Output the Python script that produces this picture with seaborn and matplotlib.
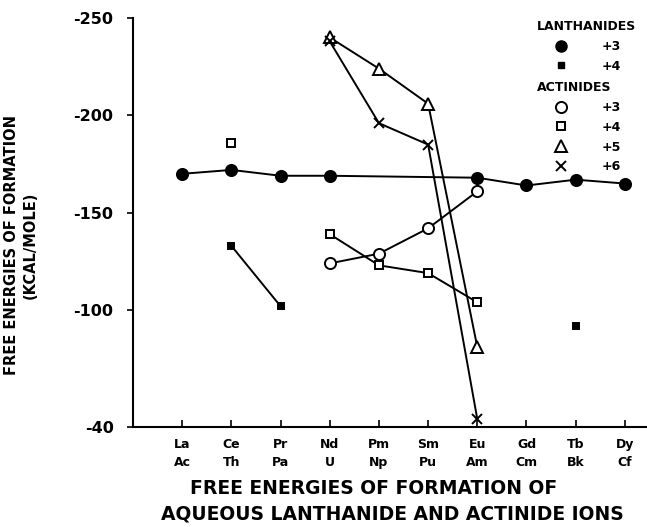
import numpy as np
import pandas as pd
import matplotlib
matplotlib.use("Agg")
import matplotlib.pyplot as plt
import seaborn as sns
from matplotlib.lines import Line2D

# element pairs on the x axis
lanthanides = ['La', 'Ce', 'Pr', 'Nd', 'Pm', 'Sm', 'Eu', 'Gd', 'Tb', 'Dy']
actinides = ['Ac', 'Th', 'Pa', 'U', 'Np', 'Pu', 'Am', 'Cm', 'Bk', 'Cf']

# free energies (kcal/mole)
lan3_el = ['La', 'Ce', 'Pr', 'Nd', 'Eu', 'Gd', 'Tb', 'Dy']
lan3 = [-170, -172, -169, -169, -168, -164, -167, -165]

lan4_el = ['Ce', 'Pr']
lan4 = [-133, -102]
lan4b_el = ['Tb']
lan4b = [-92]

act3_el = ['U', 'Np', 'Pu', 'Am']
act3 = [-124, -129, -142, -161]

act4a_el = ['Th']
act4a = [-186]
act4_el = ['U', 'Np', 'Pu', 'Am']
act4 = [-139, -123, -119, -104]

act5_el = ['U', 'Np', 'Pu', 'Am']
act5 = [-240, -224, -206, -81]

act6_el = ['U', 'Np', 'Pu', 'Am']
act6 = [-238, -196, -185, -44]

yticks = [-250, -200, -150, -100, -40]

sns.set_style("ticks")
plt.rcParams['font.family'] = ['DejaVu Sans']
plt.rcParams['font.weight'] = 'bold'
for k in ['text.color', 'axes.labelcolor', 'xtick.color', 'ytick.color']:
    plt.rcParams[k] = 'black'

fig = plt.figure(figsize=(6.47, 5.27), dpi=100)
ax = fig.add_axes([0.2056, 0.1898, 0.7944, 0.776])


def pos(names, order):
    return [order.index(n) for n in names]


def draw(names, order, vals, marker, filled, size):
    df = pd.DataFrame({'x': pos(names, order), 'y': vals})
    sns.lineplot(data=df, x='x', y='y', ax=ax, color='black', lw=1.4,
                 marker=marker, markersize=size,
                 markerfacecolor='black' if filled else 'white',
                 markeredgecolor='black', markeredgewidth=1.4)


draw(lan3_el, lanthanides, lan3, 'o', True, 8)
draw(lan4_el, lanthanides, lan4, 's', True, 5)
draw(lan4b_el, lanthanides, lan4b, 's', True, 5)
draw(act3_el, actinides, act3, 'o', False, 8)
draw(act4a_el, actinides, act4a, 's', False, 5.5)
draw(act4_el, actinides, act4, 's', False, 5.5)
draw(act5_el, actinides, act5, '^', False, 8)
draw(act6_el, actinides, act6, 'x', False, 7)

ax.set_xlim(-1, 9.45)
ax.set_ylim(-40, -250)
ax.set_xticks(range(10))
ax.set_xticklabels([f"{a}\n{b}" for a, b in zip(lanthanides, actinides)],
                   fontsize=9, fontweight='bold', linespacing=1.5)
ax.set_yticks(yticks)
ax.set_yticklabels([f"-{abs(v)}" for v in yticks], fontsize=11.5, fontweight='bold')
ax.tick_params(axis='x', direction='in', length=5, width=1.2, pad=8)
ax.tick_params(axis='y', direction='out', length=4, width=1.2, pad=10)
sns.despine(ax=ax)
for s in ['left', 'bottom']:
    ax.spines[s].set_linewidth(1.5)
    ax.spines[s].set_color('black')

ax.set_xlabel("")
ax.set_ylabel("FREE ENERGIES OF FORMATION\n(KCAL/MOLE)", fontsize=10.5,
              fontweight='bold', linespacing=1.35)
ax.yaxis.set_label_coords(-0.185, 0.445)

fig.text(0.577, 0.074, "FREE ENERGIES OF FORMATION OF", ha='center', va='center',
         fontsize=13.5, fontweight='bold')
fig.text(0.606, 0.025, "AQUEOUS LANTHANIDE AND ACTINIDE IONS", ha='center', va='center',
         fontsize=13.5, fontweight='bold')

# legends
h_lan = [Line2D([], [], ls='none', marker='o', ms=8, mfc='black', mec='black'),
         Line2D([], [], ls='none', marker='s', ms=5, mfc='black', mec='black')]
h_act = [Line2D([], [], ls='none', marker='o', ms=8, mfc='white', mec='black', mew=1.4),
         Line2D([], [], ls='none', marker='s', ms=5.5, mfc='white', mec='black', mew=1.4),
         Line2D([], [], ls='none', marker='^', ms=8, mfc='white', mec='black', mew=1.4),
         Line2D([], [], ls='none', marker='x', ms=7, mec='black', mew=1.4)]
kw = dict(frameon=False, loc='upper left', alignment='left', handlelength=3.8,
          handletextpad=1.4, labelspacing=0.55, borderpad=0, borderaxespad=0,
          prop={'size': 9, 'weight': 'bold'},
          title_fontproperties={'size': 9, 'weight': 'bold'})
leg1 = ax.legend(h_lan, ['+3', '+4'], title='LANTHANIDES',
                 bbox_to_anchor=(537 / 647, 1 - 20 / 527),
                 bbox_transform=fig.transFigure, **kw)
ax.add_artist(leg1)
ax.legend(h_act, ['+3', '+4', '+5', '+6'], title='ACTINIDES',
          bbox_to_anchor=(537 / 647, 1 - 81 / 527),
          bbox_transform=fig.transFigure, **kw)

fig.savefig("out.png", dpi=100)
